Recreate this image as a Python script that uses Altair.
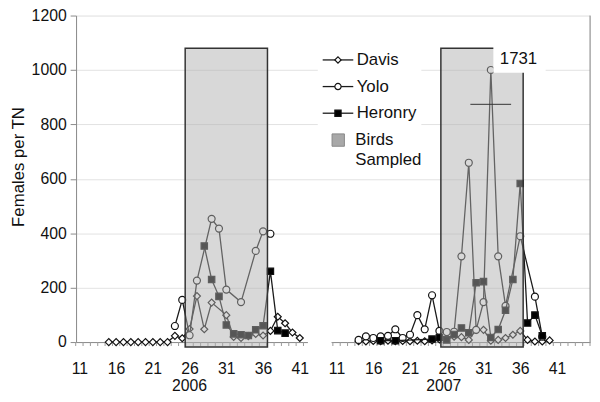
import altair as alt
import pandas as pd

# ---------------- data ----------------
years = [2006, 2007]
week_ticks = [11, 16, 21, 26, 31, 36, 41]

davis_2006_weeks = [15, 16, 17, 18, 19, 20, 21, 22, 23, 24, 25, 26, 27, 28, 29, 31, 32, 33, 34, 35, 36, 37, 38, 39, 40, 41]
davis_2006_vals = [0, 0, 0, 0, 0, 0, 0, 0, 0, 23, 14, 48, 169, 47, 145, 99, 19, 15, 22, 30, 24, 41, 93, 69, 35, 15]
yolo_2006_weeks = [24, 25, 26, 27, 29, 30, 31, 33, 35, 36, 37]
yolo_2006_vals = [59, 155, 25, 226, 453, 417, 193, 147, 335, 407, 398]
heronry_2006_weeks = [28, 29, 30, 31, 32, 33, 34, 35, 36, 37, 38, 39]
heronry_2006_vals = [353, 230, 168, 63, 30, 27, 24, 45, 60, 260, 42, 33]

davis_2007_weeks = [14, 15, 16, 17, 18, 19, 20, 21, 22, 23, 24, 25, 26, 27, 28, 29, 30, 31, 32, 33, 34, 35, 36, 37, 38, 39, 40]
davis_2007_vals = [3, 2, 4, 3, 5, 3, 4, 3, 5, 3, 6, 10, 15, 20, 18, 8, 45, 45, 5, 8, 15, 27, 41, 8, 2, 2, 6]
yolo_2007_weeks = [14, 15, 16, 17, 18, 19, 20, 21, 22, 23, 24, 25, 26, 27, 28, 29, 30, 31, 32, 33, 34, 36, 38, 39]
yolo_2007_vals = [8, 21, 15, 21, 23, 47, 15, 27, 99, 47, 172, 41, 37, 38, 315, 659, 45, 147, 1000, 315, 133, 389, 167, 20]
heronry_2007_weeks = [17, 19, 24, 25, 26, 27, 28, 29, 30, 31, 32, 33, 34, 35, 36, 37, 38, 39]
heronry_2007_vals = [5, 5, 11, 17, 8, 28, 52, 34, 218, 222, 17, 46, 117, 230, 583, 70, 99, 23]

# sampled periods (weeks)
sampled_start = [25.4, 25.2]
sampled_end = [36.6, 36.4]
sampled_top = 1080
sampled_bottom = -18

peak_label = "1731"

# ---------------- build tables ----------------
WEEKS_PER_YEAR = 35


def pos(week, year):
    return week - 11 + (WEEKS_PER_YEAR if year == 2007 else 0)


rows = []
for name, yr, wks, vals in [
    ("Davis", 2006, davis_2006_weeks, davis_2006_vals),
    ("Davis", 2007, davis_2007_weeks, davis_2007_vals),
    ("Yolo", 2006, yolo_2006_weeks, yolo_2006_vals),
    ("Yolo", 2007, yolo_2007_weeks, yolo_2007_vals),
    ("Heronry", 2006, heronry_2006_weeks, heronry_2006_vals),
    ("Heronry", 2007, heronry_2007_weeks, heronry_2007_vals),
]:
    for w, v in zip(wks, vals):
        rows.append({"series": name, "year": yr, "grp": f"{name}{yr}",
                     "week": w, "pos": pos(w, yr), "value": v})
df = pd.DataFrame(rows)

rect_df = pd.DataFrame({
    "x": [pos(s, y) for s, y in zip(sampled_start, years)],
    "x2": [pos(e, y) for e, y in zip(sampled_end, years)],
    "y": [sampled_bottom] * 2,
    "y2": [sampled_top] * 2,
})

year_df = pd.DataFrame({"pos": [pos(26, 2006), pos(25.6, 2007)], "label": [str(y) for y in years]})
label_pos = [pos(w, y) for y in years for w in week_ticks]
tick_df = pd.DataFrame({"pos": [i - 0.5 for i in range(2 * WEEKS_PER_YEAR + 1)]})

W, H = 521, 331
FONT = "Liberation Sans"

xscale = alt.Scale(domain=[-0.45, 69.5], nice=False, zero=False)
yscale = alt.Scale(domain=[0, 1200], nice=False)

x_axis = alt.Axis(values=label_pos, labelExpr="'' + (11 + datum.value % 35)",
                  labelOverlap=False, grid=False, ticks=False,
                  domainColor="#8a8a8a",
                  labelFontSize=16, labelFont=FONT, labelColor="#111",
                  labelPadding=19, title=None)
y_axis = alt.Axis(values=[0, 200, 400, 600, 800, 1000, 1200], format="d", tickSize=6,
                  tickColor="#8a8a8a", domainColor="#8a8a8a",
                  grid=True, gridColor="#e2e2e2",
                  gridOpacity={"condition": {"test": "datum.value >= 1200", "value": 0}, "value": 1},
                  labelFontSize=16, labelFont=FONT, labelColor="#111", labelPadding=4,
                  title="Females per TN", titleFontSize=17, titleFont=FONT,
                  titleFontWeight="normal", titleColor="#111",
                  titleAngle=-90, titleAlign="center", titleBaseline="middle",
                  titleX=-58, titleY=153)

X = alt.X("pos:Q", scale=xscale, axis=x_axis)
Y = alt.Y("value:Q", scale=yscale, axis=y_axis)

base = alt.Chart(df)


def series_layers(name, shape, fill, size):
    d = base.transform_filter(alt.datum.series == name)
    line = d.mark_line(color="#1a1a1a", strokeWidth=1.3).encode(x=X, y=Y, detail="grp:N", order="pos:Q")
    pts = d.mark_point(shape=shape, filled=True, fill=fill, stroke="#111",
                       strokeWidth=1.2, size=size, opacity=1).encode(x=X, y=Y)
    return [line, pts]


layers = []
# minor category ticks along the x axis
layers.append(alt.Chart(tick_df).mark_rule(color="#9a9a9a", strokeWidth=1).encode(
    x=alt.X("pos:Q", scale=xscale), y=alt.value(H), y2=alt.value(H + 4)))

layers += series_layers("Davis", "diamond", "white", 50)
layers += series_layers("Yolo", "circle", "white", 50)
layers += series_layers("Heronry", "square", "#000", 42)

# sampled periods overlay
rect = alt.Chart(rect_df).mark_rect(fill="#afafaf", fillOpacity=0.49, stroke="#333",
                                    strokeWidth=1.5).encode(
    x=alt.X("x:Q", scale=xscale), x2="x2:Q",
    y=alt.Y("y:Q", scale=yscale), y2="y2:Q")
layers.append(rect)

# gap in the baseline between the two panels
gap = alt.Chart(pd.DataFrame({"a": [0]})).mark_rect(fill="white").encode(
    x=alt.value(235), x2=alt.value(259), y=alt.value(329), y2=alt.value(337))
layers.append(gap)

# year labels under the axis
years_txt = alt.Chart(year_df).mark_text(fontSize=16, font=FONT, color="#111",
                                         baseline="middle").encode(
    x=alt.X("pos:Q", scale=xscale), y=alt.value(H + 45), text="label:N")
layers.append(years_txt)

# legend (manual)
one = pd.DataFrame({"a": [0]})
leg_bg = alt.Chart(one).mark_rect(fill="white").encode(
    x=alt.value(245), x2=alt.value(350), y=alt.value(27), y2=alt.value(158))
layers.append(leg_bg)
leg_rows = [("Davis", "diamond", "white", 45), ("Yolo", "circle", "white", 72), ("Heronry", "square", "#000", 99)]
for name, shape, fill, yy in leg_rows:
    layers.append(alt.Chart(one).mark_rule(color="#1a1a1a", strokeWidth=1.3).encode(
        x=alt.value(250), x2=alt.value(281), y=alt.value(yy)))
    layers.append(alt.Chart(one).mark_point(shape=shape, filled=True, fill=fill, stroke="#111",
                                            strokeWidth=1.2, size=40, opacity=1).encode(
        x=alt.value(265.5), y=alt.value(yy)))
    layers.append(alt.Chart(pd.DataFrame({"t": [name]})).mark_text(
        fontSize=17, font=FONT, color="#111", align="left", baseline="middle").encode(
        x=alt.value(284.5), y=alt.value(yy), text="t:N"))
layers.append(alt.Chart(one).mark_rect(fill="#a8a8a8", stroke="#888", strokeWidth=1).encode(
    x=alt.value(259.5), x2=alt.value(272), y=alt.value(120), y2=alt.value(132.5)))
layers.append(alt.Chart(pd.DataFrame({"t": ["Birds"]})).mark_text(
    fontSize=17, font=FONT, color="#111", align="left", baseline="middle").encode(
    x=alt.value(283), y=alt.value(126), text="t:N"))
layers.append(alt.Chart(pd.DataFrame({"t": ["Sampled"]})).mark_text(
    fontSize=17, font=FONT, color="#111", align="left", baseline="middle").encode(
    x=alt.value(283), y=alt.value(146), text="t:N"))

# 1731 label box and break mark
layers.append(alt.Chart(one).mark_rect(fill="white").encode(
    x=alt.value(423), x2=alt.value(476), y=alt.value(27), y2=alt.value(58)))
layers.append(alt.Chart(pd.DataFrame({"t": [peak_label]})).mark_text(
    fontSize=17, font=FONT, color="#111", align="center", baseline="middle").encode(
    x=alt.value(448.5), y=alt.value(44.5), text="t:N"))
layers.append(alt.Chart(one).mark_rule(color="#333", strokeWidth=1).encode(
    x=alt.value(399.7), x2=alt.value(441), y=alt.value(90)))

# right border line
layers.append(alt.Chart(one).mark_rule(color="#8a8a8a", strokeWidth=1).encode(
    x=alt.value(W), y=alt.value(0), y2=alt.value(H)))

chart = alt.layer(*layers).properties(
    width=W, height=H,
    padding={"left": 69, "top": 5, "right": 2, "bottom": 50},
    autosize=alt.AutoSizeParams(type="none"),
).configure_view(stroke=None).configure(background="white")

chart.save("out.html", embed_options={"renderer": "svg", "actions": False})
